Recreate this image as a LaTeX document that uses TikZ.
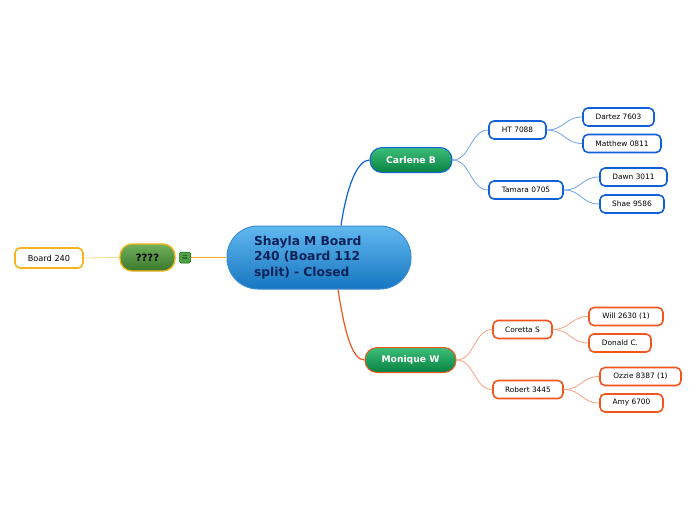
\documentclass[tikz,border=0pt]{standalone}
\usepackage{fontspec}
\setmainfont{DejaVu Sans}
\usetikzlibrary{calc}
\definecolor{cblue}{HTML}{1060D8}
\definecolor{cblueL}{HTML}{6FA3EC}
\definecolor{corange}{HTML}{F2561D}
\definecolor{corangeL}{HTML}{F7A080}
\definecolor{cyel}{HTML}{F5B41C}
\definecolor{cyelL}{HTML}{F8D58A}
\definecolor{navy}{HTML}{0B2258}
\tikzset{
  leaf/.style={draw, line width=1.6pt, rounded corners=5pt, fill=white, font=\fontsize{7.4}{8}\selectfont, inner sep=0pt, minimum height=18pt},
  bleaf/.style={leaf, draw=cblue},
  oleaf/.style={leaf, draw=corange},
  main/.style={draw, line width=1pt, rounded corners=12pt, text=white, font=\fontsize{9.2}{10}\selectfont\bfseries, inner sep=0pt, minimum height=25pt},
  bline/.style={cblueL, line width=0.8pt},
  oline/.style={corangeL, line width=0.8pt},
}
\begin{document}
\begin{tikzpicture}[x=1pt,y=-1pt]
\useasboundingbox (0,0) rectangle (696,520);
% central
\node[draw={rgb,255:red,60;green,140;blue,215}, line width=1pt, rounded corners=31pt, top color={rgb,255:red,98;green,184;blue,240}, bottom color={rgb,255:red,22;green,118;blue,192}, minimum width=184pt, minimum height=63pt, inner sep=0pt, text width=130pt, align=left, text=navy, font=\fontsize{12.3}{15.5}\selectfont\bfseries] (central) at (319,257.5) {Shayla M Board\\240 (Board 112\\split) - Closed};
% main topics
\node[main, draw=cblue, minimum width=82pt, top color={rgb,255:red,60;green,190;blue,120}, bottom color={rgb,255:red,8;green,130;blue,66}] (carlene) at (411,160) {Carlene B};
\node[main, draw=corange, minimum width=91pt, top color={rgb,255:red,60;green,190;blue,120}, bottom color={rgb,255:red,8;green,130;blue,66}] (monique) at (410.5,360) {Monique W};
\node[main, draw=cyel, line width=1.3pt, minimum width=55pt, minimum height=27pt, top color={rgb,255:red,112;green,176;blue,90}, bottom color={rgb,255:red,58;green,120;blue,44}, text=black, font=\fontsize{10}{11}\selectfont\bfseries] (qq) at (147.5,257.5) {????};
\node[draw=green!40!black, line width=0.5pt, fill={rgb,255:red,80;green,160;blue,70}, rounded corners=1.5pt, minimum width=11pt, minimum height=11pt, inner sep=0pt, font=\fontsize{7}{7}\selectfont] (icon) at (185,257.5) {$\equiv$};
\node[leaf, draw=cyel, minimum width=68pt, minimum height=20pt, font=\fontsize{8.2}{9}\selectfont] (board) at (49,258) {Board 240};
% blue leaves
\node[bleaf, minimum width=57pt] (ht) at (517.5,130) {HT 7088};
\node[bleaf, minimum width=71pt] (dartez) at (618.5,117) {Dartez 7603};
\node[bleaf, minimum width=78pt] (matthew) at (622,143.5) {Matthew 0811};
\node[bleaf, minimum width=74pt] (tamara) at (526,190) {Tamara 0705};
\node[bleaf, minimum width=67pt] (dawn) at (633.5,177) {Dawn 3011};
\node[bleaf, minimum width=64pt] (shae) at (632,204) {Shae 9586};
% orange leaves
\node[oleaf, minimum width=59pt] (coretta) at (522.5,329.5) {Coretta S};
\node[oleaf, minimum width=74pt] (will) at (626,316.5) {Will 2630 (1)};
\node[oleaf, minimum width=62pt] (donald) at (620,343) {Donald C.};
\node[oleaf, minimum width=70pt] (robert) at (528,389.5) {Robert 3445};
\node[oleaf, minimum width=81pt] (ozzie) at (640.5,376.5) {Ozzie 8387 (1)};
\node[oleaf, minimum width=63pt] (amy) at (631.5,403) {Amy 6700};
% connectors
\draw[cblue, line width=1.2pt] ($(central.north)+(22,0)$) .. controls ($(central.north)+(28,-40)$) and ($(carlene.west)+(-12,0)$) .. (carlene.west);
\draw[corange, line width=1.2pt] ($(central.south)+(19,0)$) .. controls ($(central.south)+(26,45)$) and ($(monique.west)+(-12,0)$) .. (monique.west);
\draw[cyel, line width=0.8pt] (icon.east) -- (central.west);
\draw[cyelL, line width=0.8pt] (board.east) -- (qq.west);
\foreach \a/\b/\s in {carlene/ht/bline, carlene/tamara/bline, ht/dartez/bline, ht/matthew/bline, tamara/dawn/bline, tamara/shae/bline, monique/coretta/oline, monique/robert/oline, coretta/will/oline, coretta/donald/oline, robert/ozzie/oline, robert/amy/oline}{
  \coordinate (m) at ($(\a.east)!0.5!(\b.west)$);
  \draw[\s] (\a.east) .. controls (\a.east -| m) and (\b.west -| m) .. (\b.west);
}
\end{tikzpicture}
\end{document}
